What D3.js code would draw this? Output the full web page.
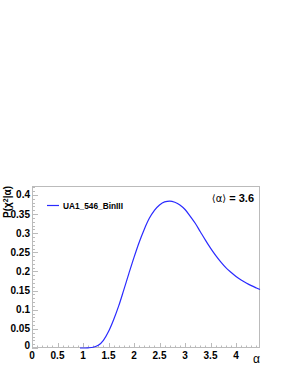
<!DOCTYPE html>
<html><head><meta charset="utf-8">
<script src="https://cdn.jsdelivr.net/npm/d3@7"></script>
<style>body{margin:0;background:#fff}svg{display:block}text{font-family:"Liberation Sans",Arial,sans-serif}</style>
</head><body>
<svg id="c" width="284" height="367"></svg>
<script>
const alpha = [0.94,1.0,1.1,1.2,1.3,1.4,1.5,1.6,1.7,1.8,1.9,2.0,2.1,2.2,2.3,2.4,2.5,2.6,2.7,2.8,2.9,3.0,3.1,3.2,3.3,3.4,3.5,3.6,3.7,3.8,3.9,4.0,4.1,4.2,4.3,4.4,4.47];
const prob  = [0,0,0.0005,0.002,0.007,0.02,0.043,0.074,0.11,0.152,0.195,0.237,0.276,0.31,0.339,0.36,0.374,0.382,0.384,0.381,0.374,0.362,0.345,0.326,0.304,0.282,0.261,0.242,0.225,0.21,0.198,0.187,0.178,0.17,0.163,0.157,0.153];
const xTicks = [0,0.5,1,1.5,2,2.5,3,3.5,4];
const xTickLabels = ["0","0.5","1","1.5","2","2.5","3","3.5","4"];
const yTicks = [0,0.05,0.1,0.15,0.2,0.25,0.3,0.35,0.4];
const yTickLabels = ["0","0.05","0.1","0.15","0.2","0.25","0.3","0.35","0.4"];
const legendLabel = "UA1_546_BinIII";
const meanValue = "3.6";

const L=32,R=260,T=186,B=348;
const svg=d3.select("#c");
const x=d3.scaleLinear().domain([0,4.47]).range([L,R]);
const y=d3.scaleLinear().domain([0,0.4235]).range([B,T]);
const grey="#bbb";

// frame
svg.append("rect").attr("x",L+0.5).attr("y",T+0.5).attr("width",R-L-1).attr("height",B-T-1)
  .attr("fill","none").attr("stroke",grey).attr("stroke-width",1);

// x ticks
const xMinor=d3.range(0,4.471,0.1);
svg.append("g").selectAll("line").data(xMinor).join("line")
  .attr("x1",d=>Math.round(x(d))+0.5).attr("x2",d=>Math.round(x(d))+0.5)
  .attr("y1",B).attr("y2",d=>Math.abs(d/0.5-Math.round(d/0.5))<1e-6?B-5:B-2.5)
  .attr("stroke",grey);
svg.append("g").selectAll("text").data(xTicks).join("text")
  .attr("x",d=>x(d)).attr("y",B+10.5).attr("text-anchor","middle")
  .attr("font-size",10).attr("font-weight","bold").text((d,i)=>xTickLabels[i]);

// y ticks
const yMinor=d3.range(0,0.4231,0.01);
svg.append("g").selectAll("line").data(yMinor).join("line")
  .attr("y1",d=>Math.round(y(d))+0.5).attr("y2",d=>Math.round(y(d))+0.5)
  .attr("x1",L).attr("x2",d=>Math.abs(d/0.05-Math.round(d/0.05))<1e-6?L+6:L+3)
  .attr("stroke",grey);
svg.append("g").selectAll("text").data(yTicks).join("text")
  .attr("x",L-2).attr("y",d=>y(d)+(d===0?1:3.5)).attr("text-anchor","end")
  .attr("font-size",10).attr("font-weight","bold").text((d,i)=>yTickLabels[i]);

// curve
const line=d3.line().x(d=>x(d[0])).y(d=>y(d[1])).curve(d3.curveMonotoneX);
svg.append("path").datum(alpha.map((a,i)=>[a,prob[i]])).attr("d",line)
  .attr("fill","none").attr("stroke","#2a2aff").attr("stroke-width",1.2);

// axis titles
svg.append("text").attr("transform","translate(11,186) rotate(-90)").attr("text-anchor","end")
  .attr("font-size",10).attr("font-weight","bold")
  .html('P(\u03C7<tspan dy="-3" font-size="7">2</tspan><tspan dy="3">|\u03B1)</tspan>');
svg.append("text").attr("x",260).attr("y",363).attr("text-anchor","end")
  .attr("font-size",12).text("\u03B1");

// legend
svg.append("line").attr("x1",47).attr("x2",59).attr("y1",205.5).attr("y2",205.5)
  .attr("stroke","#2a2aff").attr("stroke-width",1.2);
svg.append("text").attr("x",63).attr("y",208.5).attr("font-size",8.3).attr("font-weight","bold").text(legendLabel);
const mt=svg.append("text").attr("x",254).attr("y",202).attr("text-anchor","end").attr("font-size",11);
mt.append("tspan").attr("font-family","DejaVu Sans").attr("font-size",10).text("\u27E8\u03B1\u27E9");
mt.append("tspan").attr("font-weight","bold").text(" = "+meanValue);
</script>
</body></html>
